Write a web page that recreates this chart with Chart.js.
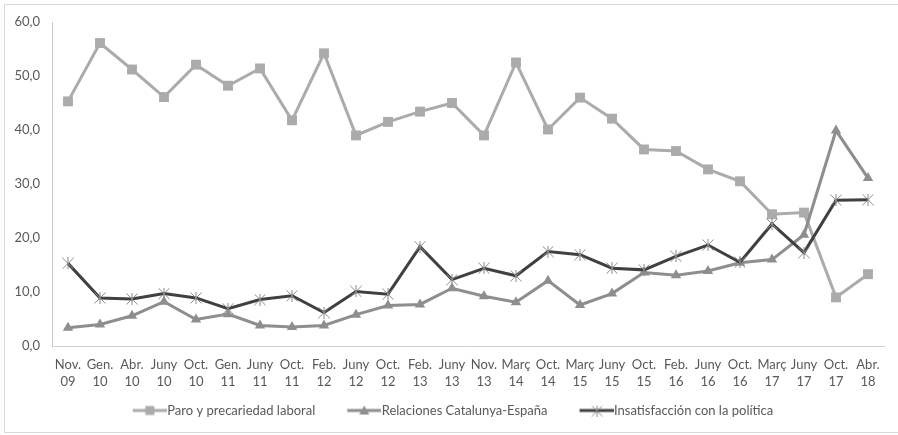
<!DOCTYPE html>
<html>
<head>
<meta charset="utf-8">
<style>
  html, body { margin: 0; padding: 0; background: #ffffff; }
  #wrap { width: 898px; height: 435px; position: relative; }
</style>
<script src="https://cdn.jsdelivr.net/npm/chart.js@4/dist/chart.umd.min.js"></script>
</head>
<body>
<div id="wrap"><canvas id="chart" width="898" height="435"></canvas></div>
<script>
// Survey waves (month + two-digit year)
const waves = [
  ['Nov.', '09'], ['Gen.', '10'], ['Abr.', '10'], ['Juny', '10'], ['Oct.', '10'],
  ['Gen.', '11'], ['Juny', '11'], ['Oct.', '11'], ['Feb.', '12'], ['Juny', '12'],
  ['Oct.', '12'], ['Feb.', '13'], ['Juny', '13'], ['Nov.', '13'], ['Març', '14'],
  ['Oct.', '14'], ['Març', '15'], ['Juny', '15'], ['Oct.', '15'], ['Feb.', '16'],
  ['Juny', '16'], ['Oct.', '16'], ['Març', '17'], ['Juny', '17'], ['Oct.', '17'],
  ['Abr.', '18']
];

// Share of respondents naming each issue as the main problem (%)
const paro = [45.3, 56.1, 51.2, 46.1, 52.1, 48.2, 51.4, 41.8, 54.2, 39.0,
              41.5, 43.4, 45.0, 39.0, 52.5, 40.1, 46.0, 42.1, 36.4, 36.1,
              32.7, 30.5, 24.4, 24.7, 9.0, 13.3];
const relaciones = [3.4, 4.0, 5.6, 8.2, 4.9, 5.9, 3.8, 3.5, 3.8, 5.8,
                    7.5, 7.7, 10.7, 9.2, 8.1, 12.1, 7.6, 9.7, 13.6, 13.1,
                    13.9, 15.4, 16.0, 20.6, 39.9, 31.1];
const insatisfaccion = [15.3, 8.9, 8.7, 9.7, 8.9, 6.9, 8.6, 9.3, 6.2, 10.1,
                        9.6, 18.4, 12.3, 14.4, 13.0, 17.5, 16.9, 14.4, 14.1, 16.6,
                        18.7, 15.5, 22.6, 17.3, 27.0, 27.1];

const seriesNames = ['Paro y precariedad laboral', 'Relaciones Catalunya-España', 'Insatisfacción con la política'];
const yTicks = [0, 10, 20, 30, 40, 50, 60];

const C_PARO = '#ababab';
const C_REL = '#8e8e8e';
const C_INS = '#404040';
const C_STAR = '#8a8a8a';
const TEXT = '#595959';
const FONT = 'Lato, "Open Sans", "DejaVu Sans", sans-serif';
const FONT_SIZE = 13;

// Asterisk marker: an X with a vertical stroke
function makeStar(size) {
  const c = document.createElement('canvas');
  c.width = size; c.height = size;
  const g = c.getContext('2d');
  g.strokeStyle = C_STAR;
  g.lineWidth = 1;
  const m = size / 2, r = size / 2 - 0.5;
  g.beginPath();
  g.moveTo(m - r, m - r); g.lineTo(m + r, m + r);
  g.moveTo(m + r, m - r); g.lineTo(m - r, m + r);
  g.moveTo(m, 0); g.lineTo(m, size);
  g.stroke();
  return c;
}
const starMark = makeStar(12);

// Legend swatch: a short line with its marker in the middle.
// The slot is SWATCH_SLOT wide; the canvas is wider and overflows it so the
// line sits right against the label and leaves room before it.
const SWATCH_SLOT = 50;
const SWATCH_W = 62;
function makeSwatch(color, kind) {
  const h = 12;
  const c = document.createElement('canvas');
  c.width = SWATCH_W; c.height = h;
  const g = c.getContext('2d');
  const x0 = 28, x1 = SWATCH_W;
  g.strokeStyle = color;
  g.lineWidth = 3;
  g.beginPath(); g.moveTo(x0, h / 2); g.lineTo(x1, h / 2); g.stroke();
  const cx = (x0 + x1) / 2, cy = h / 2;
  g.fillStyle = color;
  if (kind === 'rect') {
    g.fillRect(cx - 4.5, cy - 4.5, 9, 9);
  } else if (kind === 'triangle') {
    g.beginPath();
    g.moveTo(cx, cy - 5); g.lineTo(cx + 5, cy + 4); g.lineTo(cx - 5, cy + 4);
    g.closePath(); g.fill();
  } else {
    g.drawImage(makeStar(11), Math.round(cx - 5.5), Math.round(cy - 5.5));
  }
  return c;
}
const swatches = [
  makeSwatch(C_PARO, 'rect'),
  makeSwatch(C_REL, 'triangle'),
  makeSwatch(C_INS, 'star')
];

// Outer frame around the whole chart
const framePlugin = {
  id: 'frame',
  beforeDraw(chart) {
    const ctx = chart.ctx;
    ctx.save();
    ctx.fillStyle = '#ffffff';
    ctx.fillRect(0, 0, chart.width, chart.height);
    ctx.strokeStyle = '#d9d9d9';
    ctx.lineWidth = 1;
    ctx.strokeRect(4.5, 4.5, chart.width, 428);
    ctx.restore();
  }
};

new Chart(document.getElementById('chart'), {
  type: 'line',
  data: {
    labels: waves,
    datasets: [
      {
        label: seriesNames[0], data: paro, order: 3,
        borderColor: C_PARO, backgroundColor: C_PARO, borderWidth: 3,
        pointStyle: 'rect', pointRadius: 7, pointHoverRadius: 7,
        pointBackgroundColor: C_PARO, pointBorderWidth: 0, tension: 0
      },
      {
        label: seriesNames[1], data: relaciones, order: 2,
        borderColor: C_REL, backgroundColor: C_REL, borderWidth: 3,
        pointStyle: 'triangle', pointRadius: 6, pointHoverRadius: 6,
        pointBackgroundColor: C_REL, pointBorderWidth: 0, tension: 0
      },
      {
        label: seriesNames[2], data: insatisfaccion, order: 1,
        borderColor: C_INS, backgroundColor: C_INS, borderWidth: 3,
        pointStyle: starMark, pointRadius: 6, tension: 0
      }
    ]
  },
  options: {
    responsive: false,
    animation: false,
    devicePixelRatio: 1,
    layout: { padding: { left: 0, right: 14, top: 22, bottom: 8 } },
    scales: {
      x: {
        offset: true,
        grid: { display: false, drawTicks: false },
        border: { display: true, color: '#d0d0d0', width: 1 },
        ticks: {
          color: TEXT, font: { family: FONT, size: FONT_SIZE, lineHeight: 1.3 },
          padding: 10, maxRotation: 0, autoSkip: false
        },
        afterFit(scale) { scale.height = 48; }
      },
      y: {
        min: 0, max: 60,
        grid: { display: false, drawTicks: false },
        border: { display: true, color: '#c8c8c8', width: 1 },
        afterBuildTicks(scale) { scale.ticks = yTicks.map(v => ({ value: v })); },
        ticks: {
          color: TEXT, font: { family: FONT, size: FONT_SIZE }, padding: 12,
          callback: v => v.toFixed(1).replace('.', ',')
        },
        afterFit(scale) { scale.width = 52; }
      }
    },
    plugins: {
      legend: {
        position: 'bottom',
        labels: {
          usePointStyle: true,
          pointStyleWidth: SWATCH_SLOT,
          padding: 10,
          color: TEXT,
          font: { family: FONT, size: FONT_SIZE },
          generateLabels(chart) {
            return seriesNames.map((name, i) => ({
              text: name,
              pointStyle: swatches[i],
              fillStyle: 'transparent',
              strokeStyle: 'transparent',
              lineWidth: 0,
              fontColor: TEXT,
              datasetIndex: i,
              hidden: false
            }));
          }
        }
      },
      tooltip: { enabled: false }
    }
  },
  plugins: [framePlugin]
});
</script>
</body>
</html>
